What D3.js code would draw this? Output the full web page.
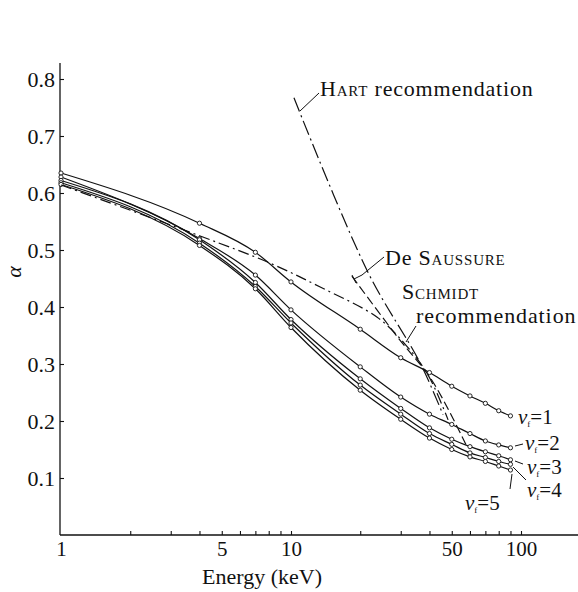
<!DOCTYPE html>
<html>
<head>
<meta charset="utf-8">
<script src="https://cdn.jsdelivr.net/npm/d3@7"></script>
<style>
  html, body { margin: 0; padding: 0; background: #fff; }
  svg { display: block; }
  svg text { font-family: "Liberation Serif", Tinos, "Times New Roman", Times, "DejaVu Serif", serif; fill: #111; }
</style>
</head>
<body>
<svg id="chart" width="578" height="592"></svg>
<script>
// Photon energies (keV) at which alpha was computed
const energies = [1, 4, 7, 10, 20, 30, 40, 50, 60, 70, 80, 90];

// alpha for each value of nu_f
const alphaNu1 = [0.635, 0.547, 0.496, 0.444, 0.361, 0.311, 0.285, 0.261, 0.244, 0.231, 0.218, 0.209];
const alphaNu2 = [0.628, 0.520, 0.456, 0.395, 0.295, 0.242, 0.212, 0.194, 0.178, 0.165, 0.158, 0.153];
const alphaNu3 = [0.622, 0.518, 0.443, 0.378, 0.274, 0.222, 0.188, 0.168, 0.155, 0.146, 0.139, 0.132];
const alphaNu4 = [0.618, 0.512, 0.436, 0.372, 0.263, 0.212, 0.178, 0.159, 0.144, 0.136, 0.129, 0.124];
const alphaNu5 = [0.615, 0.508, 0.432, 0.364, 0.254, 0.203, 0.170, 0.150, 0.137, 0.129, 0.121, 0.114];
const nuLabels = ["1", "2", "3", "4", "5"];

// Recommended curves
const schmidtE     = [1, 4, 8.1, 13.4, 23.7, 31.3, 39.4, 48.2];
const schmidtAlpha = [0.614, 0.525, 0.477, 0.435, 0.382, 0.335, 0.281, 0.202];
const hartE        = [10.3, 21.6, 36.4, 45.8];
const hartAlpha    = [0.767, 0.461, 0.302, 0.211];
const saussureE     = [18.4, 29.2, 40.9, 57.7];
const saussureAlpha = [0.454, 0.346, 0.272, 0.158];

// Axis ticks
const yTicks = [0.1, 0.2, 0.3, 0.4, 0.5, 0.6, 0.7, 0.8];
const xTicks = [1, 2, 3, 4, 5, 6, 7, 8, 9, 10, 20, 30, 40, 50, 60, 70, 80, 90, 100];
const xTickLabels = [1, 5, 10, 50, 100];

const FONT = "Liberation Serif, Tinos, Times New Roman, serif";
const svg = d3.select("#chart");

const x = d3.scaleLog().domain([1, 100]).range([61, 521]);
const y = d3.scaleLinear().domain([0, 0.8]).range([535, 79]);

// Axis lines
svg.append("line").attr("x1", 60).attr("x2", 578).attr("y1", 535).attr("y2", 535)
  .attr("stroke", "#111").attr("stroke-width", 1.3);
svg.append("line").attr("x1", 60).attr("x2", 60).attr("y1", 535).attr("y2", 63)
  .attr("stroke", "#111").attr("stroke-width", 1.3);

// Y axis: inward ticks, labels on the left
const yAxis = d3.axisLeft(y).tickValues(yTicks).tickSizeInner(-4).tickSizeOuter(0)
  .tickPadding(5).tickFormat(d3.format(".1f"));
const gy = svg.append("g").attr("transform", "translate(60,0)").attr("font-family", FONT).call(yAxis);
gy.select(".domain").remove();
gy.selectAll("line").attr("stroke", "#111").attr("stroke-width", 1.1);
gy.selectAll("text").attr("font-size", 22).attr("fill", "#111");

// X axis: inward log ticks, labels only on selected values
const xAxis = d3.axisBottom(x).tickValues(xTicks).tickSizeInner(-4).tickSizeOuter(0)
  .tickPadding(6).tickFormat(d => String(d));
const gx = svg.append("g").attr("transform", "translate(0,535)").attr("font-family", FONT).call(xAxis);
gx.select(".domain").remove();
gx.selectAll("line").attr("stroke", "#111").attr("stroke-width", 1.1);
gx.selectAll(".tick").filter(d => !xTickLabels.includes(d)).select("text").remove();
gx.selectAll("text").attr("font-size", 21).attr("fill", "#111");
gx.selectAll(".tick").filter(d => d === 1).select("line").remove();

// Axis titles
svg.append("text").attr("x", 262).attr("y", 584).attr("text-anchor", "middle")
  .attr("font-size", 22).text("Energy (keV)");
svg.append("text").attr("transform", "translate(21,272) rotate(-90)")
  .attr("text-anchor", "middle").attr("font-size", 22).attr("font-style", "italic").text("α");

// Computed curves with open markers
const series = [alphaNu1, alphaNu2, alphaNu3, alphaNu4, alphaNu5];
const line = d3.line().x(d => x(d[0])).y(d => y(d[1])).curve(d3.curveMonotoneX);
series.forEach(vals => {
  const pts = energies.map((e, i) => [e, vals[i]]);
  svg.append("path").attr("d", line(pts)).attr("fill", "none")
    .attr("stroke", "#111").attr("stroke-width", 1.2);
});
series.forEach(vals => {
  svg.append("g").selectAll("circle").data(energies.map((e, i) => [e, vals[i]]))
    .join("circle").attr("cx", d => x(d[0])).attr("cy", d => y(d[1])).attr("r", 2.1)
    .attr("fill", "#fff").attr("stroke", "#111").attr("stroke-width", 0.9);
});

// Recommended curves
const rline = d3.line().x(d => x(d[0])).y(d => y(d[1])).curve(d3.curveCatmullRom.alpha(0.5));
svg.append("path").attr("d", rline(schmidtE.map((e, i) => [e, schmidtAlpha[i]])))
  .attr("fill", "none").attr("stroke", "#111").attr("stroke-width", 1.2)
  .attr("stroke-dasharray", "11,4,2,4");
svg.append("path").attr("d", rline(hartE.map((e, i) => [e, hartAlpha[i]])))
  .attr("fill", "none").attr("stroke", "#111").attr("stroke-width", 1.2)
  .attr("stroke-dasharray", "15,4,2,4");
svg.append("path").attr("d", rline(saussureE.map((e, i) => [e, saussureAlpha[i]])))
  .attr("fill", "none").attr("stroke", "#111").attr("stroke-width", 1.2)
  .attr("stroke-dasharray", "9,4");

// Curve annotations (small caps set by hand)
function smallCaps(xp, yp, first, rest, tail) {
  const t = svg.append("text").attr("x", xp).attr("y", yp).attr("font-size", 22)
    .attr("letter-spacing", 0.8);
  t.append("tspan").text(first);
  t.append("tspan").attr("font-size", 15).text(rest);
  if (tail) t.append("tspan").text(tail);
  return t;
}
smallCaps(320, 96, "H", "ART", " recommendation");
smallCaps(385, 265, "De S", "AUSSURE");
smallCaps(402, 299, "S", "CHMIDT");
svg.append("text").attr("x", 416).attr("y", 323).attr("font-size", 22)
  .attr("letter-spacing", 0.9).text("recommendation");

// Leader lines
const leaders = [
  [[300, 111], [319, 93]],
  [[384, 257], [362, 275]],
  [[354, 279], [362, 275]],
  [[416, 326], [406, 342]],
  [[515, 446], [523, 444]],
  [[515, 461], [523, 464]],
  [[513, 467], [526, 480]],
  [[512, 474], [510, 489]]
];
leaders.forEach(p => {
  svg.append("line").attr("x1", p[0][0]).attr("y1", p[0][1]).attr("x2", p[1][0]).attr("y2", p[1][1])
    .attr("stroke", "#111").attr("stroke-width", 1);
});
svg.append("line").attr("x1", 352).attr("y1", 275).attr("x2", 356).attr("y2", 283)
  .attr("stroke", "#111").attr("stroke-width", 1);

// nu_f labels
const nuPos = [[518, 424], [525, 450], [527, 474], [527, 497], [465, 510]];
nuLabels.forEach((lab, i) => {
  const t = svg.append("text").attr("x", nuPos[i][0]).attr("y", nuPos[i][1]).attr("font-size", 21);
  t.append("tspan").attr("font-style", "italic").text("ν");
  t.append("tspan").attr("font-size", 9).attr("dy", 3).text("f");
  t.append("tspan").attr("dy", -3).text("=" + lab);
});
</script>
</body>
</html>
